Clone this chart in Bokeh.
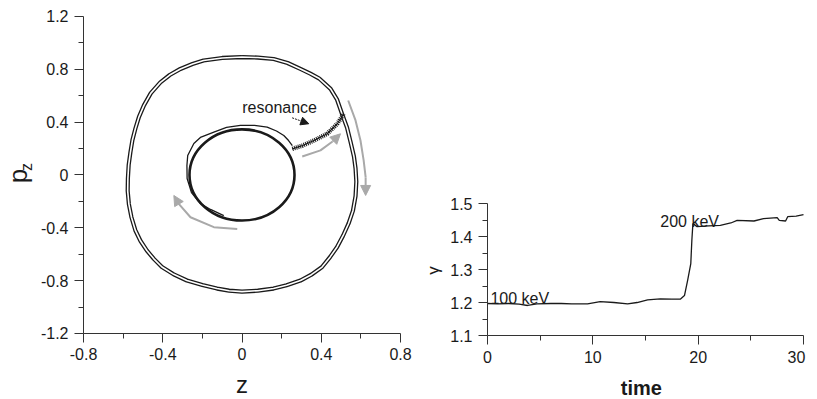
from bokeh.plotting import figure
from bokeh.models import Range1d, FixedTicker, Label, Arrow, NormalHead
from bokeh.layouts import row
from bokeh.embed import file_html
from bokeh.resources import INLINE

# ---------------- data: left panel (phase plane z, p_z) ----------------
outer_z = [0.0, 0.08, 0.16, 0.23, 0.295, 0.345, 0.39, 0.447, 0.48, 0.505, 0.53, 0.548,
           0.565, 0.573, 0.577, 0.573, 0.56, 0.538, 0.51, 0.48, 0.445, 0.404, 0.35,
           0.295, 0.225, 0.159, 0.08, 0.0, -0.065, -0.126, -0.2, -0.278, -0.345,
           -0.404, -0.445, -0.48, -0.512, -0.538, -0.558, -0.571, -0.577, -0.576,
           -0.572, -0.563, -0.553, -0.538, -0.52, -0.495, -0.46, -0.412, -0.365,
           -0.311, -0.25, -0.194, -0.1, 0.0]
outer_pz = [0.893, 0.889, 0.878, 0.848, 0.803, 0.767, 0.730, 0.652, 0.57, 0.462, 0.36, 0.25,
            0.14, 0.05, -0.05, -0.16, -0.27, -0.367, -0.46, -0.545, -0.62, -0.697, -0.755,
            -0.799, -0.835, -0.86, -0.876, -0.883, -0.876, -0.86, -0.833, -0.799, -0.752,
            -0.697, -0.635, -0.572, -0.5, -0.42, -0.32, -0.22, -0.12, -0.027,
            0.075, 0.174, 0.265, 0.352, 0.44, 0.527, 0.62, 0.701, 0.757,
            0.803, 0.84, 0.867, 0.886, 0.893]

inner_center = (0.0, 0.0)
inner_width = 0.53
inner_height = 0.69

drift_z = [-0.092, -0.159, -0.21, -0.255, -0.277, -0.278, -0.274, -0.243, -0.21, -0.142,
           -0.078, -0.008, 0.063, 0.127, 0.174, 0.211, 0.235, 0.254]
drift_pz = [-0.307, -0.261, -0.216, -0.133, -0.027, 0.072, 0.148, 0.239, 0.284, 0.324,
            0.36, 0.375, 0.375, 0.362, 0.333, 0.299, 0.261, 0.223]

res_z = [0.254, 0.306, 0.363, 0.43, 0.481, 0.514]
res_pz = [0.198, 0.223, 0.261, 0.312, 0.388, 0.464]

arrow1_z = [0.304, 0.396, 0.457, 0.497]
arrow1_pz = [0.14, 0.186, 0.254, 0.312]
arrow2_z = [0.536, 0.573, 0.598, 0.614, 0.624, 0.624]
arrow2_pz = [0.564, 0.413, 0.261, 0.11, -0.017, -0.155]
arrow3_z = [-0.024, -0.142, -0.26, -0.319, -0.344]
arrow3_pz = [-0.408, -0.395, -0.32, -0.218, -0.155]

res_label = "resonance"
res_label_pos = (0.19, 0.511)
res_arrow = (0.253, 0.433, 0.337, 0.388)

z_ticks = [-0.8, -0.4, 0, 0.4, 0.8]
z_tick_labels = ["-0.8", "-0.4", "0", "0.4", "0.8"]
z_minor = [-0.6, -0.2, 0.2, 0.6]
pz_ticks = [-1.2, -0.8, -0.4, 0, 0.4, 0.8, 1.2]
pz_tick_labels = ["-1.2", "-0.8", "-0.4", "0", "0.4", "0.8", "1.2"]
pz_minor = [-1.0, -0.6, -0.2, 0.2, 0.6, 1.0]

# ---------------- data: right panel (gamma vs time) ----------------
time = [0, 1, 2, 3, 3.8, 4.7, 6, 7, 8, 9.5, 10.7, 12, 13.3, 14.2, 15.2, 16.4, 17.5,
        18.3, 18.7, 19.0, 19.3, 19.4, 19.5, 19.9, 21, 22.1, 23.1, 23.7, 25.3, 26.2,
        27.5, 27.7, 28.3, 28.5, 29.3, 30]
gamma = [1.197, 1.196, 1.197, 1.195, 1.191, 1.196, 1.197, 1.197, 1.196, 1.196, 1.203,
         1.2, 1.196, 1.2, 1.208, 1.211, 1.21, 1.21, 1.221, 1.267, 1.318, 1.388, 1.439,
         1.43, 1.432, 1.434, 1.441, 1.449, 1.447, 1.454, 1.457, 1.449, 1.447, 1.46,
         1.462, 1.466]
t_ticks = [0, 10, 20, 30]
t_tick_labels = ["0", "10", "20", "30"]
t_minor = [5, 15, 25]
g_ticks = [1.1, 1.2, 1.3, 1.4, 1.5]
g_tick_labels = ["1.1", "1.2", "1.3", "1.4", "1.5"]
g_minor = [1.15, 1.25, 1.35, 1.45]
ann_100 = ("100 keV", 0.28, 1.212)
ann_200 = ("200 keV", 16.4, 1.444)

# ---------------- styling ----------------
FONT = "Liberation Sans"
INK = "#1a1a1a"
AX = "#333333"
GRAY = "#a9a9a9"


def style_axes(p):
    p.outline_line_color = None
    p.xgrid.visible = False
    p.ygrid.visible = False
    p.background_fill_color = "white"
    p.border_fill_color = "white"
    for ax in (p.xaxis[0], p.yaxis[0]):
        ax.axis_line_color = AX
        ax.axis_line_width = 1
        ax.major_tick_line_color = AX
        ax.minor_tick_line_color = AX
        ax.major_tick_in = 0
        ax.major_tick_out = 9
        ax.minor_tick_in = 0
        ax.minor_tick_out = 5
        ax.major_label_text_font = FONT
        ax.major_label_text_font_size = "16px"
        ax.major_label_text_color = INK
        ax.major_label_standoff = 6


# ---------------- left figure ----------------
# The plotting frame fills the whole canvas (420 x 399 px); the axes sit at fixed
# locations so that axis titles can be drawn as labels inside the frame.
# z: 198.125 px per unit with z=-0.8 at 83 px; p_z: 132.083 px per unit with 1.2 at 16 px.
p1 = figure(width=420, height=399, x_range=Range1d(-1.2189, 0.9009),
            y_range=Range1d(-1.6998, 1.3211),
            output_backend="svg", toolbar_location=None, min_border=0)
style_axes(p1)
p1.xaxis.fixed_location = pz_ticks[0]
p1.yaxis.fixed_location = z_ticks[0]
p1.xaxis.bounds = (z_ticks[0], z_ticks[-1])
p1.yaxis.bounds = (pz_ticks[0], pz_ticks[-1])
p1.xaxis.ticker = FixedTicker(ticks=z_ticks, minor_ticks=z_minor)
p1.yaxis.ticker = FixedTicker(ticks=pz_ticks, minor_ticks=pz_minor)
p1.xaxis.major_label_overrides = dict(zip(z_ticks, z_tick_labels))
p1.yaxis.major_label_overrides = dict(zip(pz_ticks, pz_tick_labels))

# outer double-stranded orbit
p1.line(outer_z, outer_pz, line_color=INK, line_width=4.2, line_join="round")
p1.line(outer_z, outer_pz, line_color="white", line_width=1.6, line_join="round")
# inner orbits
p1.ellipse(x=[inner_center[0]], y=[inner_center[1]], width=[inner_width], height=[inner_height],
           fill_color=None, line_color=INK, line_width=2.6)
p1.line(drift_z, drift_pz, line_color=INK, line_width=1.3)
# resonance zig-zag
p1.line(res_z, res_pz, line_color=INK, line_width=1.2)
p1.line(res_z, res_pz, line_color=INK, line_width=4.5, line_dash="1 1")

# gray direction arrows
for az, apz in ((arrow1_z, arrow1_pz), (arrow2_z, arrow2_pz), (arrow3_z, arrow3_pz)):
    p1.line(az[:-1], apz[:-1], line_color=GRAY, line_width=2)
    p1.add_layout(Arrow(end=NormalHead(size=10, fill_color=GRAY, line_color=GRAY),
                        x_start=az[-2], y_start=apz[-2], x_end=az[-1], y_end=apz[-1],
                        line_color=GRAY, line_width=2))

p1.add_layout(Label(x=res_label_pos[0], y=res_label_pos[1], text=res_label,
                    text_font=FONT, text_font_size="16px", text_color=INK,
                    text_align="center", text_baseline="middle"))
p1.add_layout(Arrow(end=NormalHead(size=8, fill_color=INK, line_color=INK),
                    x_start=res_arrow[0], y_start=res_arrow[1],
                    x_end=res_arrow[2], y_end=res_arrow[3],
                    line_color=INK, line_width=1, line_dash="2 1"))

# axis titles: p_z (p with subscript z) and z
p1.add_layout(Label(x=z_ticks[0], y=0, x_offset=-65, y_offset=-1, text="p", angle=1.5708,
                    text_font=FONT, text_font_size="26px", text_color=INK,
                    text_align="center", text_baseline="alphabetic"))
p1.add_layout(Label(x=z_ticks[0], y=0, x_offset=-57, y_offset=8, text="z", angle=1.5708,
                    text_font=FONT, text_font_size="16px", text_color=INK,
                    text_align="center", text_baseline="alphabetic"))
p1.add_layout(Label(x=0, y=pz_ticks[0], y_offset=-51, text="z",
                    text_font=FONT, text_font_size="24px", text_color=INK,
                    text_align="center", text_baseline="alphabetic"))

# ---------------- right figure ----------------
# time: 10.533 px per unit with t=0 at 67 px; gamma: 330 px per unit with 1.5 at 203 px.
p2 = figure(width=397, height=399, x_range=Range1d(-6.361, 31.329),
            y_range=Range1d(0.9061, 2.1152),
            output_backend="svg", toolbar_location=None, min_border=0)
style_axes(p2)
p2.xaxis.fixed_location = g_ticks[0]
p2.yaxis.fixed_location = t_ticks[0]
p2.xaxis.bounds = (t_ticks[0], t_ticks[-1])
p2.yaxis.bounds = (g_ticks[0], g_ticks[-1])
p2.xaxis.ticker = FixedTicker(ticks=t_ticks, minor_ticks=t_minor)
p2.yaxis.ticker = FixedTicker(ticks=g_ticks, minor_ticks=g_minor)
t_over = dict(zip(t_ticks, t_tick_labels))
t_over[t_ticks[-1]] = ""
p2.xaxis.major_label_overrides = t_over
p2.yaxis.major_label_overrides = dict(zip(g_ticks, g_tick_labels))
# "30" tick label nudged left, as in the reference
p2.add_layout(Label(x=t_ticks[-1], y=g_ticks[0], x_offset=-7, y_offset=-15,
                    text=t_tick_labels[-1], text_font=FONT, text_font_size="16px",
                    text_color=INK, text_align="center", text_baseline="top"))

p2.line(time, gamma, line_color=INK, line_width=1.3)

for txt, tx, ty in (ann_100, ann_200):
    p2.add_layout(Label(x=tx, y=ty, text=txt, text_font=FONT, text_font_size="16px",
                        text_color=INK, text_align="left", text_baseline="alphabetic"))

p2.add_layout(Label(x=t_ticks[0], y=1.3, x_offset=-54, y_offset=-1, text="γ", angle=1.5708,
                    text_font=FONT, text_font_size="17px", text_color=INK,
                    text_align="center", text_baseline="alphabetic"))
p2.add_layout(Label(x=14.6, y=g_ticks[0], y_offset=-52, text="time",
                    text_font=FONT, text_font_size="20px", text_font_style="bold",
                    text_color=INK, text_align="center", text_baseline="alphabetic"))

layout = row(p1, p2)
open("out.html", "w").write(file_html(layout, INLINE))
